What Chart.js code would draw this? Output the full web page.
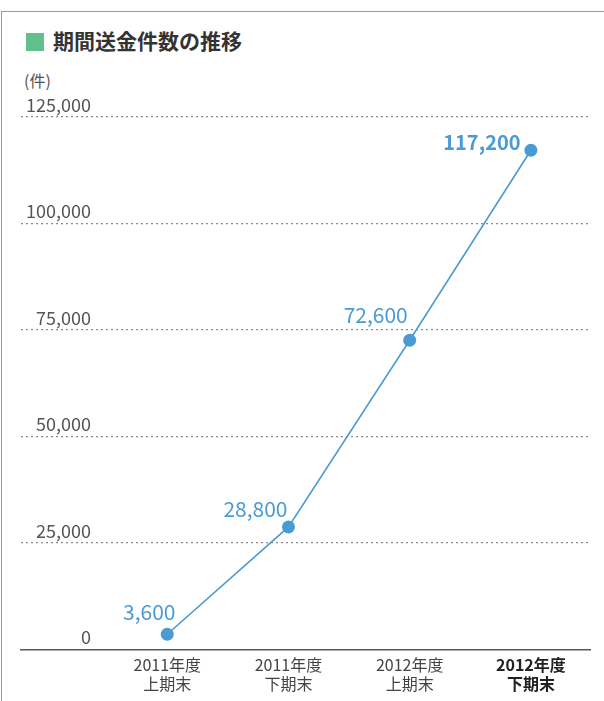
<!DOCTYPE html>
<html>
<head>
<meta charset="utf-8">
<script src="https://cdn.jsdelivr.net/npm/chart.js@4.4.1/dist/chart.umd.min.js"></script>
<style>
  body { margin: 0; background: #fff; }
  #wrap { position: relative; width: 604px; height: 701px; overflow: hidden; font-family: "Noto Sans CJK JP", sans-serif; }
  #frame { position: absolute; left: 1px; top: 11px; right: -5px; bottom: -5px; border-top: 1.5px solid #9a9a9a; border-left: 1.5px solid #9a9a9a; }
  #title { position: absolute; left: 26px; top: 26px; font-size: 21px; font-weight: bold; color: #333; line-height: 28px; }
  #title .sq { display: inline-block; width: 18px; height: 18px; background: #62c08c; vertical-align: -2px; margin-right: 9px; }
  #unit { position: absolute; left: 24px; top: 68px; font-size: 16px; color: #555; }
  canvas { position: absolute; left: 0; top: 0; }
</style>
</head>
<body>
<div id="wrap">
  <div id="frame"></div>
  <div id="title"><span class="sq"></span>期間送金件数の推移</div>
  <div id="unit">(件)</div>
  <canvas id="grafico" width="604" height="701"></canvas>
</div>
<script>
// dados
var periodos = [["2011年度", "上期末"], ["2011年度", "下期末"], ["2012年度", "上期末"], ["2012年度", "下期末"]];
var envios = [3600, 28800, 72600, 117200];
var rotulosEnvios = ["3,600", "28,800", "72,600", "117,200"];
var ticksY = [0, 25000, 50000, 75000, 100000, 125000];

var azul = "#4a9bd5";
var fonte = "'Noto Sans CJK JP', sans-serif";

// deslocamento dos rótulos em relação ao ponto
var deslocRotulos = [[-18, -22], [-33, -18], [-34, -25], [-49, -8]];

var rotulosPlugin = {
    id: 'rotulos',
    afterDatasetsDraw: function (chart) {
        var ctx = chart.ctx;
        var meta = chart.getDatasetMeta(0);
        ctx.save();
        ctx.fillStyle = azul;
        ctx.textAlign = 'center';
        ctx.textBaseline = 'middle';
        meta.data.forEach(function (p, i) {
            ctx.font = (i === 3 ? 'bold 20px ' : '21px ') + fonte;
            ctx.fillText(rotulosEnvios[i], p.x + deslocRotulos[i][0], p.y + deslocRotulos[i][1]);
        });
        ctx.restore();
    }
};

var pontos = envios.map(function (v, i) { return { x: i, y: v }; });

var ctx1 = document.getElementById('grafico').getContext('2d');
var meuGrafico = new Chart(ctx1, {
    type: 'line',
    data: {
        datasets: [{
            data: pontos,
            borderColor: azul,
            backgroundColor: azul,
            borderWidth: 1.6,
            pointRadius: 6.5,
            pointHoverRadius: 6.5,
            pointBorderWidth: 0,
            tension: 0
        }]
    },
    options: {
        responsive: false,
        animation: false,
        events: [],
        layout: { padding: { left: 11, right: 14, top: 117, bottom: 1 } },
        plugins: { legend: { display: false }, tooltip: { enabled: false } },
        scales: {
            x: {
                type: 'linear',
                min: -1.2066,
                max: 3.4876,
                afterBuildTicks: function (axis) {
                    axis.ticks = periodos.map(function (_, i) { return { value: i }; });
                },
                grid: { display: false, drawTicks: false },
                border: { display: true, color: '#5a5a5a', width: 1.5 },
                ticks: {
                    padding: 6,
                    autoSkip: false,
                    maxRotation: 0,
                    callback: function (v) { return periodos[v]; },
                    color: function (c) { return c.index === 3 ? '#222' : '#444'; },
                    font: function (c) {
                        return { family: fonte, size: 16, lineHeight: 1.2, weight: c.index === 3 ? 'bold' : 'normal' };
                    }
                }
            },
            y: {
                min: 0,
                max: 125000,
                afterBuildTicks: function (axis) {
                    axis.ticks = ticksY.map(function (v) { return { value: v }; });
                },
                grid: {
                    drawTicks: false,
                    color: function (c) { return c.tick && c.tick.value === 0 ? 'rgba(0,0,0,0)' : '#8a8a8a'; },
                    lineWidth: 1.3
                },
                border: { display: false, dash: [2, 3] },
                ticks: {
                    mirror: true,
                    crossAlign: 'far',
                    padding: 5,
                    labelOffset: -12,
                    color: '#555',
                    font: { family: fonte, size: 18 },
                    callback: function (v) { return v.toLocaleString('en-US'); }
                }
            }
        }
    },
    plugins: [rotulosPlugin]
});
</script>
</body>
</html>
